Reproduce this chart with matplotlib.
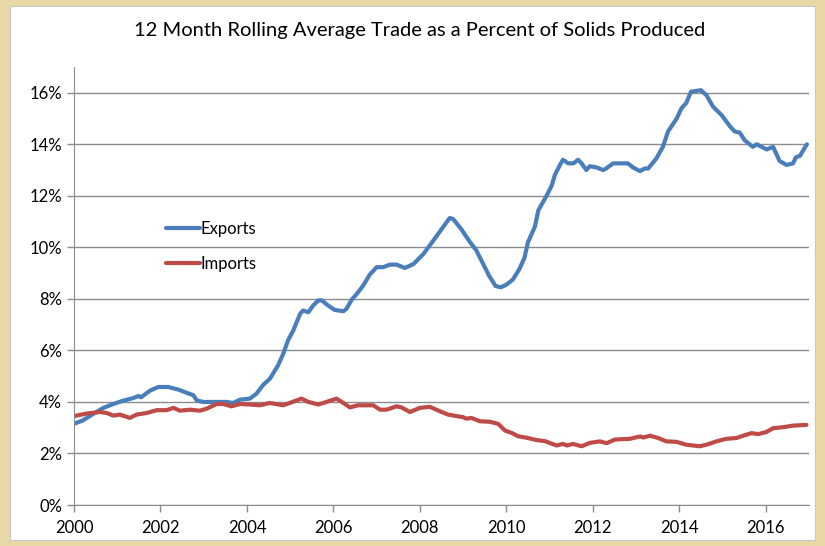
import matplotlib.pyplot as plt
from matplotlib.patches import Rectangle
from matplotlib.ticker import FuncFormatter

# values, year (fractional) and percent
exp_t = [2000.0, 2000.2, 2000.45, 2000.68, 2000.91, 2001.14, 2001.37, 2001.49, 2001.55, 2001.76,
         2001.95, 2002.18, 2002.41, 2002.68, 2002.76, 2002.84, 2002.99, 2003.53, 2003.68, 2003.84,
         2004.07, 2004.22, 2004.38, 2004.53, 2004.72, 2004.84, 2004.95, 2005.07, 2005.23, 2005.3,
         2005.42, 2005.53, 2005.65, 2005.73, 2005.88, 2006.03, 2006.23, 2006.3, 2006.42, 2006.54,
         2006.69, 2006.84, 2007.0, 2007.15, 2007.31, 2007.46, 2007.65, 2007.85, 2008.08, 2008.31,
         2008.5, 2008.69, 2008.77, 2008.96, 2009.16, 2009.3, 2009.45, 2009.6, 2009.75, 2009.87,
         2010.0, 2010.15, 2010.3, 2010.42, 2010.5, 2010.66, 2010.74, 2010.93, 2011.05, 2011.12,
         2011.24, 2011.31, 2011.43, 2011.55, 2011.66, 2011.74, 2011.85, 2011.93, 2012.09, 2012.24,
         2012.3, 2012.47, 2012.81, 2012.93, 2013.09, 2013.2, 2013.28, 2013.47, 2013.62, 2013.74,
         2013.94, 2014.05, 2014.16, 2014.27, 2014.5, 2014.63, 2014.78, 2014.98, 2015.17, 2015.28,
         2015.4, 2015.51, 2015.7, 2015.79, 2016.02, 2016.17, 2016.32, 2016.48, 2016.63, 2016.7,
         2016.79, 2016.95]
exp_v = [3.15, 3.28, 3.54, 3.77, 3.92, 4.05, 4.15, 4.23, 4.18, 4.44,
         4.58, 4.58, 4.48, 4.31, 4.26, 4.06, 4.0, 4.0, 3.96, 4.09,
         4.13, 4.32, 4.67, 4.9, 5.42, 5.87, 6.39, 6.77, 7.42, 7.55,
         7.48, 7.74, 7.94, 7.94, 7.74, 7.57, 7.52, 7.61, 7.96, 8.19,
         8.52, 8.94, 9.23, 9.23, 9.33, 9.33, 9.2, 9.35, 9.74, 10.26,
         10.7, 11.14, 11.1, 10.7, 10.2, 9.9, 9.4, 8.9, 8.5, 8.45,
         8.55, 8.75, 9.15, 9.6, 10.2, 10.8, 11.44, 12.0, 12.4, 12.8,
         13.2, 13.4, 13.26, 13.26, 13.4, 13.26, 13.0, 13.15, 13.1, 13.0,
         13.05, 13.26, 13.26, 13.1, 12.96, 13.06, 13.06, 13.45, 13.9, 14.5,
         15.0, 15.4, 15.6, 16.04, 16.1, 15.9, 15.46, 15.13, 14.7, 14.5,
         14.45, 14.16, 13.9, 14.0, 13.8, 13.9, 13.35, 13.2, 13.26, 13.5,
         13.55, 14.0]

imp_t = [2000.0, 2000.29, 2000.6, 2000.76, 2000.91, 2001.06, 2001.29, 2001.45, 2001.68, 2001.91,
         2002.14, 2002.3, 2002.45, 2002.68, 2002.91, 2003.07, 2003.3, 2003.45, 2003.64, 2003.84,
         2004.07, 2004.3, 2004.53, 2004.84, 2004.99, 2005.26, 2005.42, 2005.65, 2005.84, 2006.07,
         2006.23, 2006.38, 2006.57, 2006.92, 2007.08, 2007.23, 2007.46, 2007.57, 2007.77, 2008.0,
         2008.23, 2008.46, 2008.65, 2008.85, 2009.0, 2009.08, 2009.19, 2009.39, 2009.62, 2009.81,
         2009.97, 2010.12, 2010.27, 2010.47, 2010.7, 2010.89, 2011.0, 2011.16, 2011.31, 2011.4,
         2011.54, 2011.74, 2011.93, 2012.16, 2012.32, 2012.51, 2012.86, 2013.09, 2013.17, 2013.32,
         2013.51, 2013.7, 2013.94, 2014.16, 2014.47, 2014.63, 2014.86, 2015.09, 2015.32, 2015.48,
         2015.67, 2015.82, 2016.01, 2016.17, 2016.4, 2016.63, 2016.94]
imp_v = [3.45, 3.55, 3.61, 3.57, 3.47, 3.51, 3.38, 3.51, 3.57, 3.68,
         3.68, 3.77, 3.66, 3.7, 3.66, 3.74, 3.92, 3.92, 3.83, 3.92,
         3.9, 3.87, 3.96, 3.87, 3.96, 4.13, 4.0, 3.9, 4.0, 4.13,
         3.96, 3.79, 3.87, 3.87, 3.7, 3.7, 3.83, 3.79, 3.61, 3.77,
         3.81, 3.64, 3.51, 3.45, 3.41, 3.35, 3.38, 3.25, 3.23, 3.15,
         2.89, 2.8, 2.67, 2.61, 2.52, 2.48, 2.41, 2.31, 2.37, 2.31,
         2.37, 2.28, 2.41, 2.47, 2.4, 2.54, 2.57, 2.66, 2.62, 2.69,
         2.6, 2.47, 2.45, 2.34, 2.28, 2.34, 2.47, 2.57, 2.6, 2.69,
         2.79, 2.75, 2.83, 2.98, 3.02, 3.08, 3.11]

year_ticks = list(range(2000, 2017, 2))
pct_ticks = list(range(0, 17, 2))

plt.rcParams['font.family'] = ['Lato', 'DejaVu Sans']

fig = plt.figure(figsize=(8.25, 5.46), dpi=100)
fig.patch.set_facecolor('#e8d8a6')
# white chart area on the parchment
fig.patches.append(Rectangle((10 / 825, 6 / 546), 805 / 825, 534 / 546, transform=fig.transFigure,
                             facecolor='white', edgecolor='#c8c8c8', linewidth=0.8, zorder=-5))

ax = fig.add_axes([74 / 825, 41 / 546, 735 / 825, 438 / 546])
ax.set_zorder(1)
ax.set_facecolor('white')

ax.plot(exp_t, exp_v, color='#4a7ebb', linewidth=3, label='Exports', solid_capstyle='round')
ax.plot(imp_t, imp_v, color='#be4b48', linewidth=3, label='Imports', solid_capstyle='round')

ax.set_xlim(2000, 2017)
ax.set_ylim(0, 17)
ax.set_xticks(year_ticks)
ax.set_yticks(pct_ticks)
ax.yaxis.set_major_formatter(FuncFormatter(lambda v, p: '%d%%' % v))
ax.grid(axis='y', color='#8c8c8c', linewidth=1)
ax.set_axisbelow(True)

for s in ['top', 'right']:
    ax.spines[s].set_visible(False)
for s in ['left', 'bottom']:
    ax.spines[s].set_color('#8c8c8c')
ax.tick_params(axis='both', colors='#8c8c8c', labelcolor='black', labelsize=12, length=5, width=1)
ax.tick_params(axis='x', pad=6)

ax.legend(frameon=False, loc='center left', bbox_to_anchor=(0.105, 0.59), fontsize=12,
          handlelength=2.0, handletextpad=0.05, labelspacing=1.15)

fig.text(0.509, 0.945, '12 Month Rolling Average Trade as a Percent of Solids Produced',
         ha='center', va='center', fontsize=14.5)

fig.savefig('out.png', dpi=100, facecolor=fig.get_facecolor())
